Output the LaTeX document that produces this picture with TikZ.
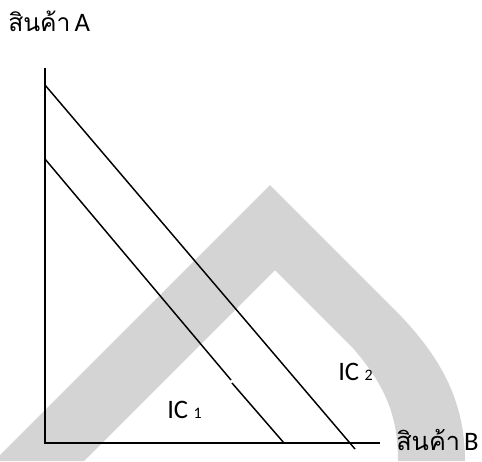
\documentclass[tikz,border=0pt]{standalone}
\usepackage{fontspec}
\newfontfamily\thaifont[Script=Thai]{Loma}
\newfontfamily\latinfont{Carlito}
\begin{document}
\begin{tikzpicture}[x=0.75pt,y=-0.75pt,
  axisline/.style={line width=1.4pt},
  icline/.style={line width=1.1pt},
  lbl/.style={inner sep=0pt,anchor=base west,font=\latinfont\fontsize{20}{22}\selectfont},
]
\useasboundingbox (0,0) rectangle (482,461);
\begin{scope}
\clip (0,0) rectangle (482,461);
\fill[fill={rgb,255:red,212;green,212;blue,212}]
  (-6,461) -- (270,185) -- (393,308)
  .. controls (440,355) and (465,400) .. (465,461)
  -- (398,461) .. controls (398,415) and (385,385) .. (352,347)
  -- (275,270) -- (84,461) -- cycle;
\end{scope}
\coordinate (top) at (45,68);
\coordinate (origin) at (45,443);
\coordinate (right) at (380,443);
\coordinate (a2) at (45,85);
\coordinate (b2) at (355,449);
\coordinate (a1) at (45,159);
\coordinate (g1) at (231,380);
\coordinate (g2) at (232,383);
\coordinate (b1) at (284,443);
\draw[axisline] (top) -- (origin) -- (right);
\draw[icline] (a2) -- (b2);
\draw[icline] (a1) -- (g1);
\draw[icline] (g2) -- (b1);
\node[lbl] (ya) at (8,31) {{\thaifont\fontsize{18.5}{20}\selectfont สินค้า}\hspace{3pt}A};
\node[lbl] (xb) at (396,450) {{\thaifont\fontsize{19}{20}\selectfont สินค้า}\hspace{3pt}B};
\node[lbl] (ic1) at (167,418) {IC\hspace{4pt}{\fontsize{12}{12}\selectfont 1}};
\node[lbl] (ic2) at (338,380) {IC\hspace{4pt}{\fontsize{12}{12}\selectfont 2}};
\end{tikzpicture}
\end{document}
